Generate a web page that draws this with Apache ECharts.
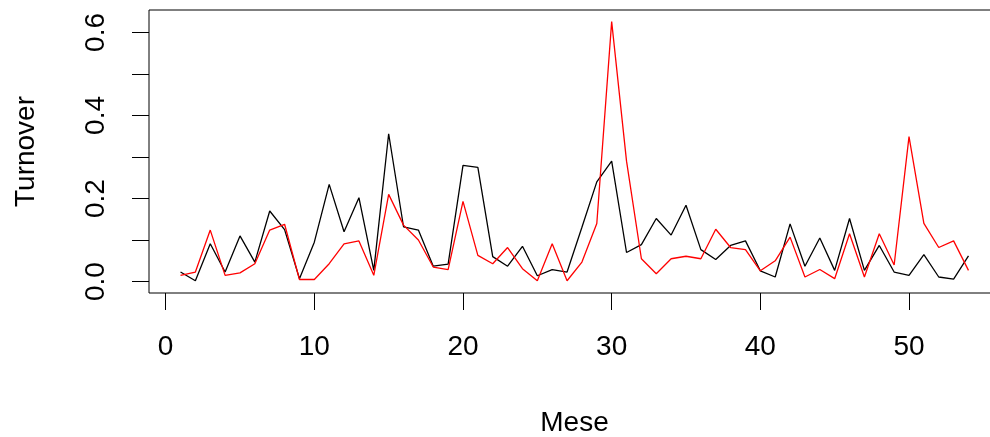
<!DOCTYPE html>
<html>
<head>
<meta charset="utf-8">
<script src="https://cdn.jsdelivr.net/npm/echarts@6/dist/echarts.min.js"></script>
<style>
html,body{margin:0;padding:0;background:#fff;}
#c{width:990px;height:437px;}
</style>
</head>
<body>
<div id="c"></div>
<script>
var months = [];
for (var m = 1; m <= 54; m++) months.push(m);

var blackSeries = [0.023,0.002,0.091,0.023,0.110,0.047,0.170,0.125,0.007,0.095,
  0.234,0.120,0.202,0.027,0.356,0.132,0.124,0.037,0.042,0.280,
  0.275,0.060,0.037,0.085,0.014,0.029,0.023,0.131,0.240,0.290,
  0.070,0.089,0.152,0.112,0.184,0.077,0.053,0.087,0.098,0.026,
  0.011,0.139,0.037,0.105,0.027,0.152,0.027,0.087,0.023,0.015,
  0.065,0.011,0.006,0.062];

var redSeries = [0.015,0.023,0.124,0.015,0.021,0.043,0.124,0.138,0.005,0.005,
  0.043,0.091,0.098,0.015,0.210,0.136,0.100,0.035,0.029,0.193,
  0.063,0.043,0.082,0.031,0.002,0.091,0.002,0.047,0.140,0.626,
  0.290,0.055,0.019,0.055,0.061,0.055,0.126,0.082,0.077,0.026,
  0.050,0.107,0.011,0.029,0.007,0.115,0.011,0.115,0.040,0.349,
  0.140,0.082,0.098,0.027];

var xTicks = [0, 10, 20, 30, 40, 50];
var yTicks = [0, 0.1, 0.2, 0.3, 0.4, 0.5, 0.6];
var yLabels = [0, 0.2, 0.4, 0.6];

function pairs(vals) {
  return months.map(function (m, i) { return [m, vals[i]]; });
}

var font = 'Liberation Sans, Arial, sans-serif';
var fs = 28;
var chart = echarts.init(document.getElementById('c'), null, {renderer: 'canvas'});
chart.setOption({
  animation: false,
  backgroundColor: '#ffffff',
  grid: {
    left: 149, top: 10, width: 851, height: 283,
    containLabel: false, outerBoundsMode: 'none',
    show: true, borderColor: '#000', borderWidth: 1, backgroundColor: 'transparent'
  },
  xAxis: {
    type: 'value',
    min: -1.12, max: 56.12,
    name: 'Mese', nameLocation: 'middle', nameGap: 116,
    nameTextStyle: {fontFamily: font, fontSize: fs, color: '#000'},
    axisLine: {show: false, onZero: false},
    splitLine: {show: false},
    axisTick: {show: true, length: 17, inside: false, customValues: xTicks,
      lineStyle: {color: '#000', width: 1}},
    axisLabel: {show: true, customValues: xTicks, margin: 40,
      fontFamily: font, fontSize: fs, color: '#000',
      formatter: function (v) { return String(v); }}
  },
  yAxis: {
    type: 'value',
    min: -0.0275, max: 0.654,
    name: 'Turnover', nameLocation: 'middle', nameGap: 109,
    nameTextStyle: {fontFamily: font, fontSize: fs, color: '#000'},
    nameRotate: 90,
    axisLine: {show: false, onZero: false},
    splitLine: {show: false},
    axisTick: {show: true, length: 17, inside: false, customValues: yTicks,
      lineStyle: {color: '#000', width: 1}},
    axisLabel: {show: true, customValues: yLabels, margin: 39, rotate: 90,
      fontFamily: font, fontSize: fs, color: '#000',
      formatter: function (v) { return v.toFixed(1); }}
  },
  series: [
    {type: 'line', data: pairs(blackSeries), symbol: 'none',
      lineStyle: {color: '#000', width: 1.3}, z: 2},
    {type: 'line', data: pairs(redSeries), symbol: 'none',
      lineStyle: {color: '#ff0000', width: 1.3}, z: 3}
  ]
});
</script>
</body>
</html>
